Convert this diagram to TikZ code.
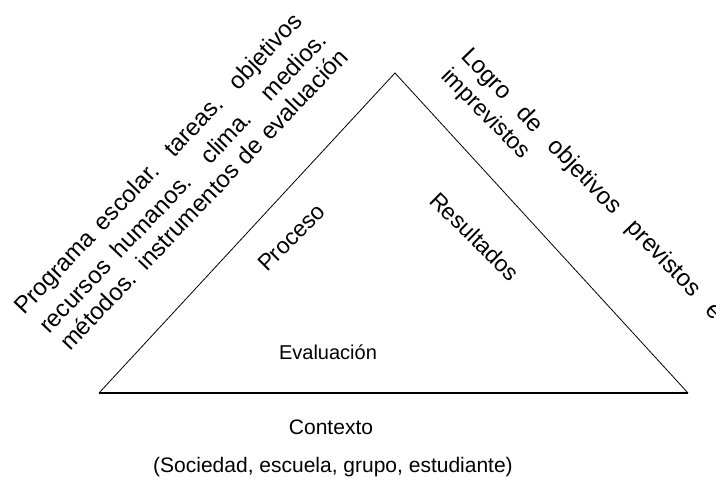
\documentclass[tikz,border=0pt]{standalone}
\usepackage{fontspec}
\setmainfont{Liberation Sans}
\begin{document}
\begin{tikzpicture}[x=1pt,y=-1pt,
  side/.style={line width=0.8pt, line join=miter},
  basestyle/.style={line width=1.4pt},
  rtext/.style={inner sep=0pt, anchor=base west, font=\fontsize{23}{27}\selectfont},
  btext/.style={inner sep=0pt, anchor=base west, font=\fontsize{24}{28}\selectfont},
  htext/.style={inner sep=0pt, anchor=base, font=\fontsize{21}{25}\selectfont}]
\useasboundingbox (0,0) rectangle (716,481);
% triangle
\coordinate (apex) at (395,73);
\coordinate (bl) at (99,393);
\coordinate (br) at (688,393);
\draw[side] (bl) -- (apex) -- (br);
\draw[basestyle] (bl) -- (br);
% left block
\node[btext, rotate=46.4] (l1) at (24,316) {\makebox[405pt][s]{Programa escolar. tareas. objetivos}};
\node[btext, rotate=46.4] (l2) at (49,335) {\makebox[405pt][s]{recursos humanos. clima. medios.}};
\node[btext, rotate=46.4] (l3) at (70,352) {\makebox[405pt][s]{métodos. instrumentos de evaluación}};
% right block
\node[btext, rotate=-46.1] (r1) at (460,57) {\makebox[366pt][s]{Logro de objetivos previstos e}};
\node[rtext, rotate=-45.5] (r2) at (440,77) {imprevistos};
% inner labels
\node[rtext, rotate=45] (proceso) at (267,273) {Proceso};
\node[rtext, rotate=-44.5] (resultados) at (428,202) {Resultados};
\node[htext, font=\fontsize{20}{24}\selectfont] (evaluacion) at (328,360) {Evaluación};
% bottom labels
\node[htext] (contexto) at (331,435) {Contexto};
\node[htext] (detalle) at (333,473) {(Sociedad, escuela, grupo, estudiante)};
\end{tikzpicture}
\end{document}
